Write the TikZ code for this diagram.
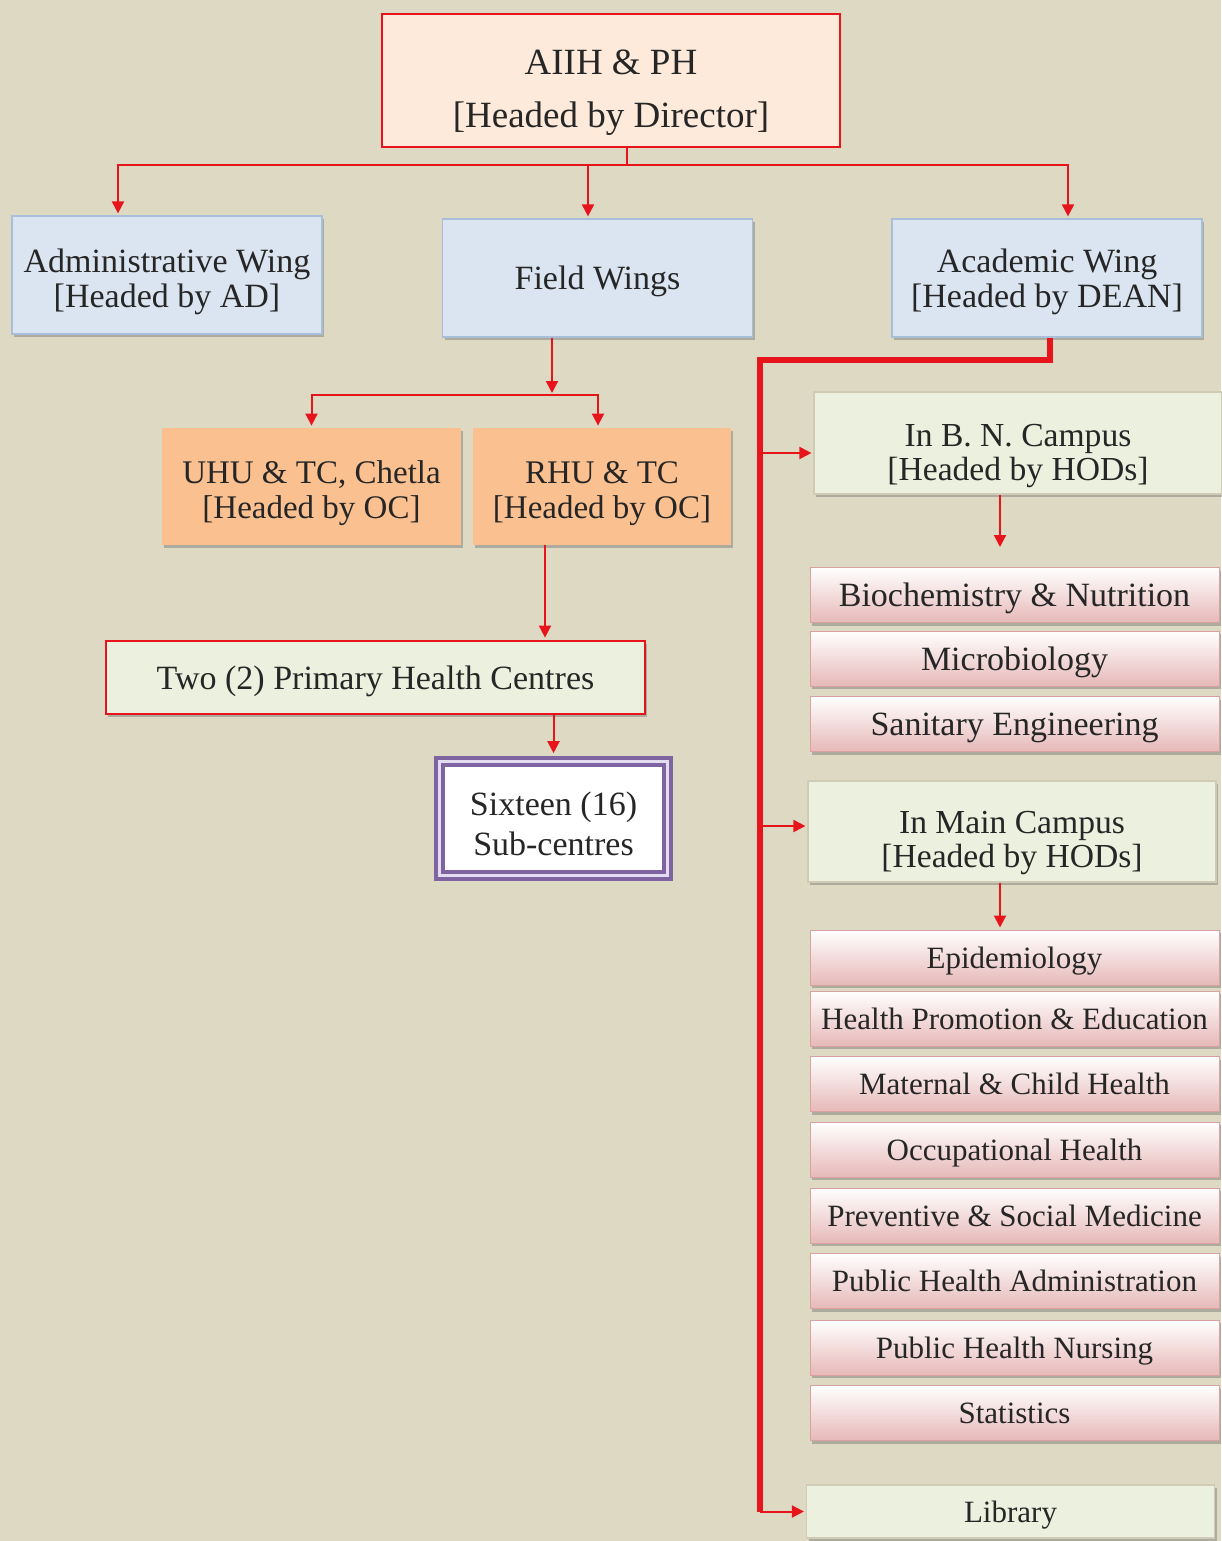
\documentclass[tikz,border=0pt]{standalone}
\usepackage{fontspec}
\setmainfont{Liberation Serif}
\usetikzlibrary{arrows.meta,shadows}

\definecolor{bgtan}{HTML}{DDD9C3}
\definecolor{linkred}{HTML}{E8141C}
\definecolor{peach}{HTML}{FDEADA}
\definecolor{wingblue}{HTML}{DBE5F1}
\definecolor{wingedge}{HTML}{A9BED8}
\definecolor{unitorange}{HTML}{FAC090}
\definecolor{campgreen}{HTML}{EBF1DE}
\definecolor{campedge}{HTML}{CFCBB4}
\definecolor{deptpink}{HTML}{E6B9B8}
\definecolor{deptedge}{HTML}{D9A2A0}
\definecolor{subpurple}{HTML}{8064A2}
\definecolor{sublav}{HTML}{E4DCF0}

\tikzset{
  boxshadow/.style={drop shadow={shadow xshift=1.2pt,shadow yshift=-1.5pt,fill=black!55,opacity=.45}},
  box/.style={rectangle,align=center,text=black!85,inner sep=2pt},
  topbox/.style={box,fill=peach,draw=linkred,line width=1.4pt,minimum width=229pt,minimum height=66.5pt,font=\fontsize{18.5}{26.5}\selectfont},
  wingbox/.style={box,boxshadow,fill=wingblue,draw=wingedge,line width=.6pt,minimum width=155pt,minimum height=59pt,font=\fontsize{17}{17.5}\selectfont},
  unitbox/.style={box,boxshadow,fill=unitorange,minimum height=58.5pt,font=\fontsize{16.5}{17.5}\selectfont},
  phcbox/.style={box,boxshadow,fill=campgreen,draw=linkred,line width=1.4pt,minimum width=269.5pt,minimum height=36.5pt,text depth=0pt,font=\fontsize{17}{20}\selectfont},
  subbox/.style={box,fill=white,draw=subpurple,line width=2.3pt,double=sublav,double distance=1.2pt,minimum width=114pt,minimum height=57pt,font=\fontsize{17}{20}\selectfont},
  campbox/.style={box,boxshadow,fill=campgreen,draw=campedge,line width=.6pt,minimum width=204pt,font=\fontsize{16.8}{17}\selectfont},
  deptbox/.style={box,boxshadow,top color=white,bottom color=deptpink,draw=deptedge,line width=.5pt,minimum width=204.5pt,minimum height=27.5pt,text depth=0pt},
  link/.style={draw=linkred,line width=1pt},
  arr/.style={link,-{Triangle[width=6pt,length=6pt]},shorten >=1pt},
  bus/.style={draw=linkred,line width=2.6pt}
}

\begin{document}
\begin{tikzpicture}[x=0.5pt,y=-0.5pt]
  \fill[bgtan] (0,0) rectangle (1221,1541);
  \useasboundingbox (0,0) rectangle (1221,1541);

  % head
  \node at (611,80.5) [topbox] (aiih) {\rule{0pt}{24.5pt}AIIH \& PH\\{[}Headed by Director{]}};

  % wings
  \node at (167,275) [wingbox] (admin) {\rule{0pt}{18.6pt}Administrative Wing\\{[}Headed by AD{]}};
  \node at (597.5,278) [wingbox,text depth=0pt] (field) {Field Wings};
  \node at (1047,278) [wingbox] (acad) {\rule{0pt}{15.6pt}Academic Wing\\{[}Headed by DEAN{]}};

  % field side
  \node at (311.5,486.5) [unitbox,minimum width=149.5pt] (uhu) {\rule{0pt}{18.3pt}UHU \& TC, Chetla\\{[}Headed by OC{]}};
  \node at (602,486.5) [unitbox,minimum width=129pt] (rhu) {\rule{0pt}{18.3pt}RHU \& TC\\{[}Headed by OC{]}};
  \node at (375.5,677.5) [phcbox] (phc) {Two (2) Primary Health Centres};
  \node at (553.5,818.5) [subbox] (subc) {\rule{0pt}{16.8pt}Sixteen (16)\\Sub-centres};

  % academic side
  \node at (1018,443) [campbox,minimum height=51pt] (bncamp) {\rule{0pt}{24pt}In B. N. Campus\\{[}Headed by HODs{]}};
  \node at (1014.5,595) [deptbox,font=\fontsize{17}{17}\selectfont] (bio) {Biochemistry \& Nutrition};
  \node at (1014.5,658.5) [deptbox,font=\fontsize{17}{17}\selectfont] (micro) {Microbiology};
  \node at (1014.5,724) [deptbox,font=\fontsize{17}{17}\selectfont] (sanit) {Sanitary Engineering};

  \node at (1012,831.5) [campbox,minimum height=50.5pt] (mcamp) {\rule{0pt}{23.1pt}In Main Campus\\{[}Headed by HODs{]}};
  \node at (1014.5,957.5) [deptbox,font=\fontsize{15.5}{16}\selectfont] (epi) {Epidemiology};
  \node at (1014.5,1018.5) [deptbox,font=\fontsize{15.5}{16}\selectfont] (hpe) {Health Promotion \& Education};
  \node at (1014.5,1084) [deptbox,font=\fontsize{15.5}{16}\selectfont] (mch) {Maternal \& Child Health};
  \node at (1014.5,1149.5) [deptbox,font=\fontsize{15.5}{16}\selectfont] (occ) {Occupational Health};
  \node at (1014.5,1215.5) [deptbox,font=\fontsize{15.5}{16}\selectfont] (psm) {Preventive \& Social Medicine};
  \node at (1014.5,1281) [deptbox,font=\fontsize{15.5}{16}\selectfont] (pha) {Public Health Administration};
  \node at (1014.5,1347.5) [deptbox,font=\fontsize{15.5}{16}\selectfont] (phn) {Public Health Nursing};
  \node at (1014.5,1413) [deptbox,font=\fontsize{15.5}{16}\selectfont] (stat) {Statistics};

  \node at (1010.5,1511.5) [campbox,minimum height=26.5pt,text depth=0pt,font=\fontsize{15.5}{16}\selectfont] (library) {Library};

  % head to wings
  \coordinate (topbus) at (627,165);
  \draw[link] (aiih.south -| topbus) -- (topbus);
  \draw[arr] (topbus) -| ([xshift=-24.5pt]admin.north);
  \draw[arr] (topbus) -| ([xshift=-4.75pt]field.north);
  \draw[arr] (topbus) -| ([xshift=10.5pt]acad.north);

  % field wings
  \coordinate (fieldbus) at (552,395);
  \draw[arr] ([xshift=-22.75pt]field.south) -- (fieldbus);
  \draw[arr] (fieldbus) -| (uhu.north);
  \draw[arr] (fieldbus) -| ([xshift=-2pt]rhu.north);
  \draw[arr] ([xshift=-28.5pt]rhu.south) -- ([xshift=-28.5pt]rhu.south |- phc.north);
  \draw[arr,shorten >=3pt] (subc.north |- phc.south) -- (subc.north);

  % academic wing
  \coordinate (acadbus) at (760,360);
  \draw[bus] ([xshift=1.5pt]acad.south) |- (acadbus) -- (acadbus |- library.west);
  \draw[arr] ([yshift=-5pt]acadbus |- bncamp.west) -- ([yshift=-5pt]bncamp.west);
  \draw[arr] ([yshift=2.75pt]acadbus |- mcamp.west) -- ([yshift=2.75pt]mcamp.west);
  \draw[arr] (acadbus |- library.west) -- (library.west);
  \draw[arr] ([xshift=-9pt]bncamp.south) -- ([xshift=-9pt,yshift=9pt]bncamp.south |- bio.north);
  \draw[arr] ([xshift=-6pt]mcamp.south) -- ([xshift=-6pt]mcamp.south |- epi.north);
\end{tikzpicture}
\end{document}
